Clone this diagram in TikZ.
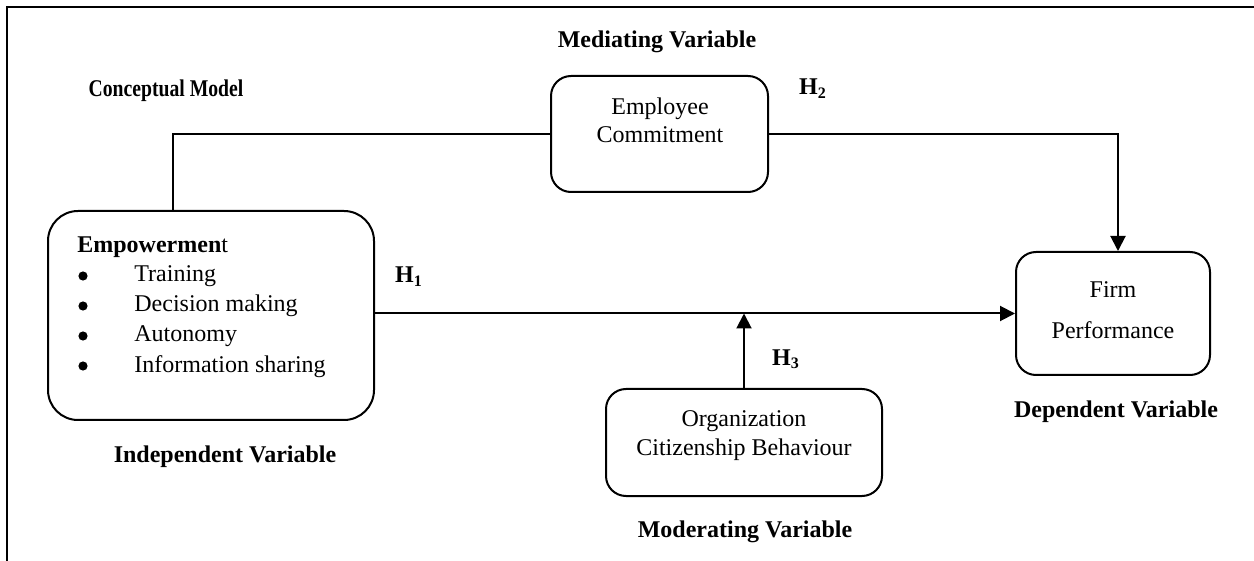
\documentclass[tikz,border=0pt]{standalone}
\usepackage{fontspec}
\setmainfont{Liberation Serif}
\usetikzlibrary{arrows.meta,fit}
\begin{document}
\begin{tikzpicture}[x=0.5pt,y=-0.5pt,
  box/.style={draw,line width=1pt,rounded corners=#1,inner sep=0pt},
  box/.default=10pt,
  lab/.style={inner sep=0pt,anchor=base,font=\fontsize{12pt}{14pt}\selectfont},
  blab/.style={lab,font=\fontsize{12pt}{14pt}\selectfont\bfseries},
  bul/.style={circle,fill,inner sep=0pt,minimum size=4.6pt},
  conn/.style={line width=1pt},
  arr/.style={conn,-{Triangle[length=7.5pt,width=7.5pt]}}]
\useasboundingbox (0,0) rectangle (1254,561);
% frame
\draw[line width=1pt] (7,561) -- (7,7) -- (1254,7);
% boxes
\node[box, fit={(551,76) (768,192)}] (ec) {};
\node[box=15pt, fit={(48,211) (374,420)}] (emp) {};
\node[box, fit={(1016,252) (1210,375)}] (firm) {};
\node[box, fit={(606,389) (882,496)}] (ocb) {};
% box texts
\node[lab] (ec1) at (660,115) {Employee};
\node[lab] (ec2) at (660,143) {Commitment};
\node[lab] (f1) at (1113,298) {Firm};
\node[lab] (f2) at (1113,339) {Performance};
\node[lab] (o1) at (744,427) {Organization};
\node[lab] (o2) at (744,456) {Citizenship Behaviour};
\node[lab,anchor=base west] (e0) at (77,253) {\textbf{Empowermen}t};
\node[bul] (b1) at (83,276) {};
\node[bul] (b2) at (83,306) {};
\node[bul] (b3) at (83,336) {};
\node[bul] (b4) at (83,366) {};
\node[lab,anchor=base west] (i1) at (134,282) {Training};
\node[lab,anchor=base west] (i2) at (134,312) {Decision making};
\node[lab,anchor=base west] (i3) at (134,342) {Autonomy};
\node[lab,anchor=base west] (i4) at (134,372) {Information sharing};
% labels
\node[blab] (mv) at (657,48) {Mediating Variable};
\node[blab] (cm) at (166,97) {\scalebox{0.82}[1]{Conceptual Model}};
\node[blab] (dv) at (1116,417) {Dependent Variable};
\node[blab] (iv) at (225,462) {Independent Variable};
\node[blab] (modv) at (745,537) {Moderating Variable};
\node[blab] (h1) at (409,283) {H\textsubscript{1}};
\node[blab] (h2) at (813,95) {H\textsubscript{2}};
\node[blab] (h3) at (786,365) {H\textsubscript{3}};
% connectors
\coordinate (xl) at (173,0);
\coordinate (xr) at (1118,0);
\draw[conn] (ec.west) -| (emp.north -| xl);
\draw[arr] (ec.east) -| (firm.north -| xr);
\draw[arr] (emp.east |- firm.west) -- (firm.west);
\draw[arr] (ocb.north) -- (ocb.north |- firm.west);
\end{tikzpicture}
\end{document}
